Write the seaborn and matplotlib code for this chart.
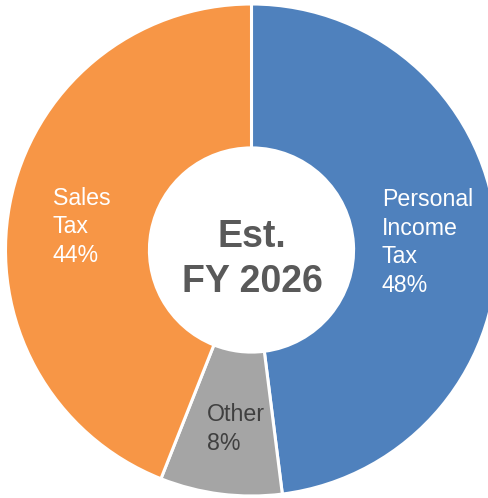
import matplotlib
matplotlib.use("Agg")
import matplotlib.pyplot as plt
import seaborn as sns

# data
categories = ["Personal Income Tax", "Other", "Sales Tax"]
labels = ["Personal\nIncome\nTax", "Other", "Sales\nTax"]
shares = [48, 8, 44]
colors = ["#4F81BD", "#A5A5A5", "#F79646"]
label_colors = ["white", "#404040", "white"]
center_text = "Est.\nFY 2026"

sns.set_style("white")
plt.rcParams["font.family"] = ["Liberation Sans", "DejaVu Sans"]

W, H = 488, 498
cx, cy, R = 251.5, 250.0, 246.0  # donut centre / outer radius in pixels


def px(x, y):
    # pixel position (from top-left) -> data coordinates of the pie
    return (x - cx) / R, (cy - y) / R


fig = plt.figure(figsize=(W / 100, H / 100), dpi=100)
ax = fig.add_axes([0, 0, 1, 1])

ax.pie(
    shares,
    colors=colors,
    startangle=90,
    counterclock=False,
    radius=1.0,
    wedgeprops=dict(width=1 - 0.415, edgecolor="white", linewidth=2.2),
)
ax.set_aspect("auto")
x0, _ = px(0, 0)
x1, _ = px(W, 0)
_, y0 = px(0, H)
_, y1 = px(0, 0)
ax.set_xlim(x0, x1)
ax.set_ylim(y0, y1)
ax.axis("off")

# slice labels (last-line baseline positions in pixels)
label_pos = [(381.7, 292), (206.7, 450), (52.7, 262)]
for lab, val, col, (lx, ly) in zip(labels, shares, label_colors, label_pos):
    tx, ty = px(lx, ly)
    ax.text(tx, ty, f"{lab}\n{val}%", color=col, fontsize=16.7,
            ha="left", va="baseline", linespacing=1.31, clip_on=False)

tx, ty = px(252, 291.7)
ax.text(tx, ty, center_text, color="#595959", fontsize=27, fontweight="bold",
        ha="center", va="baseline", linespacing=1.31, multialignment="center")

fig.savefig("out.png", dpi=100)
